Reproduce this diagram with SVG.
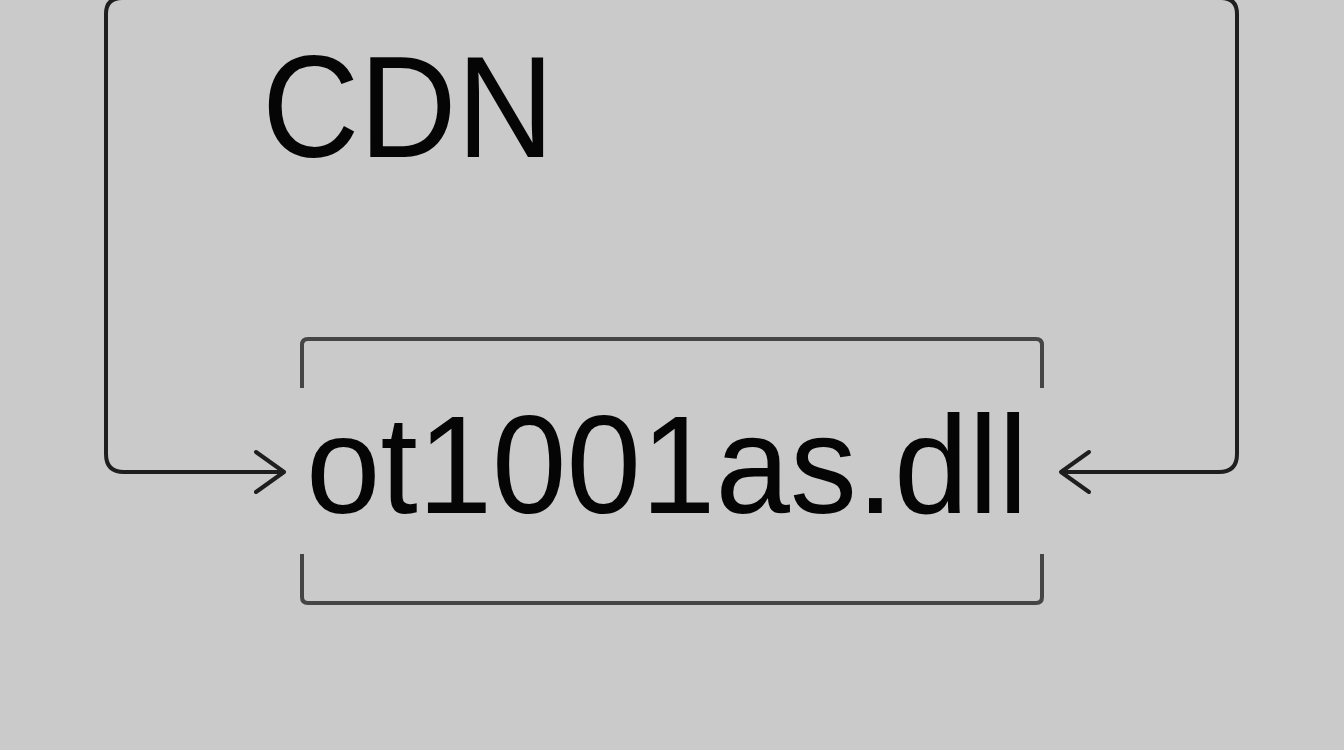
<svg xmlns="http://www.w3.org/2000/svg" width="1344" height="750" viewBox="0 0 1344 750">
<style>
.conn{fill:none;stroke:#1e1e1e;stroke-width:4;stroke-linecap:round;stroke-linejoin:round}
.brk{fill:none;stroke:#454545;stroke-width:4;stroke-linecap:butt;stroke-linejoin:round}
.t{font-family:"Liberation Sans",Arial,sans-serif;fill:#050505}
</style>
<rect width="1344" height="750" fill="#cacaca"/>
<g id="cdn">
<text class="t" x="262" y="157" font-size="145" textLength="292" lengthAdjust="spacingAndGlyphs">CDN</text>
</g>
<g id="dll">
<g class="brk">
<path d="M302,388 V345 Q302,339 308,339 H1036 Q1042,339 1042,345 V388"/>
<path d="M302,554 V597 Q302,603 308,603 H1036 Q1042,603 1042,597 V554"/>
</g>
<text class="t" x="306" y="513" font-size="140" textLength="722" lengthAdjust="spacingAndGlyphs">ot1001as.dll</text>
</g>
<g id="connectors">
<path class="conn" d="M283,472 H124 Q106,472 106,454 V14 Q106,-2 122,-2 H1221 Q1237,-2 1237,14 V454 Q1237,472 1219,472 H1062"/>
<path class="conn" d="M256,452 L284,472 L256,492"/>
<path class="conn" d="M1089,452 L1061,472 L1089,492"/>
</g>
</svg>
